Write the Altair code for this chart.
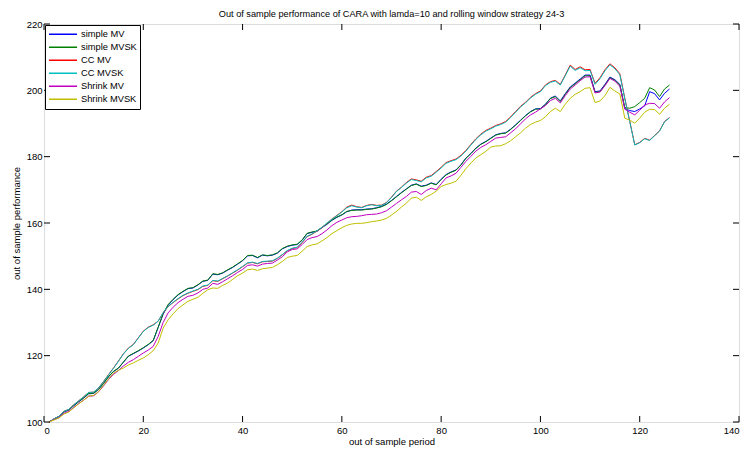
import altair as alt
import pandas as pd

periods = list(range(1, 127))

simple_mv = [100.0, 100.9, 101.6, 103.0, 103.6, 104.9, 106.1, 107.2, 108.5, 108.6,
 109.8, 111.6, 113.6, 115.2, 116.2, 118.0, 119.8, 120.6, 121.4, 122.3,
 123.3, 124.5, 128.5, 132.5, 135.2, 136.9, 138.3, 139.3, 140.2, 140.4,
 141.3, 142.4, 142.7, 144.6, 144.4, 144.9, 145.8, 146.6, 147.6, 148.6,
 150.1, 150.2, 149.5, 150.3, 150.1, 150.3, 150.9, 152.2, 152.9, 153.3,
 153.5, 154.8, 156.8, 157.2, 157.5, 158.6, 159.6, 160.8, 161.7, 162.4,
 163.4, 163.9, 164.0, 164.0, 164.2, 164.3, 164.6, 165.0, 165.7, 166.8,
 168.0, 169.2, 170.3, 171.4, 171.8, 171.1, 171.4, 172.1, 171.6, 173.2,
 174.6, 175.4, 176.0, 177.6, 179.6, 181.0, 182.6, 183.8, 184.6, 185.6,
 186.6, 187.0, 187.2, 188.3, 189.6, 191.0, 192.4, 193.6, 194.4, 194.5,
 195.8, 197.6, 198.3, 196.8, 199.0, 201.0, 202.2, 203.4, 204.6, 204.6,
 199.6, 199.8, 201.8, 204.0, 203.2, 201.8, 194.5, 193.9, 193.6, 194.4,
 195.3, 199.6, 199.0, 197.1, 199.1, 200.4]

simple_mvsk = [100.0, 100.9, 101.7, 103.1, 103.7, 105.0, 106.2, 107.3, 108.6, 108.7,
 109.9, 111.7, 113.7, 115.3, 116.3, 118.1, 119.9, 120.7, 121.5, 122.4,
 123.4, 124.6, 128.6, 132.7, 135.4, 137.0, 138.4, 139.4, 140.3, 140.5,
 141.4, 142.5, 142.8, 144.7, 144.5, 145.0, 145.9, 146.7, 147.7, 148.7,
 150.2, 150.3, 149.6, 150.4, 150.2, 150.4, 151.0, 152.3, 153.0, 153.4,
 153.6, 154.9, 156.9, 157.3, 157.6, 158.7, 159.7, 160.9, 161.8, 162.5,
 163.5, 163.8, 163.9, 163.9, 164.1, 164.2, 164.5, 164.9, 165.6, 166.7,
 167.9, 169.1, 170.2, 171.3, 171.7, 171.0, 171.3, 172.0, 171.5, 173.1,
 174.5, 175.3, 175.9, 177.5, 179.5, 180.9, 182.5, 183.7, 184.5, 185.5,
 186.5, 186.9, 187.1, 188.2, 189.5, 190.9, 192.3, 193.5, 194.3, 194.4,
 195.7, 197.5, 198.1, 196.6, 198.8, 200.8, 202.0, 203.2, 204.4, 204.4,
 199.4, 199.6, 201.6, 203.8, 203.0, 201.6, 194.8, 194.6, 195.1, 196.3,
 197.6, 200.8, 200.1, 198.1, 200.4, 201.6]

cc_mv = [100.0, 100.9, 101.7, 103.2, 103.8, 105.2, 106.4, 107.6, 108.9, 109.0,
 110.3, 112.2, 114.3, 116.3, 118.4, 120.6, 122.3, 123.4, 125.4, 127.4,
 128.6, 129.3, 130.4, 132.9, 134.8, 136.0, 137.1, 138.1, 138.8, 139.4,
 139.9, 140.9, 141.2, 142.6, 142.4, 143.2, 144.0, 144.9, 145.8, 146.8,
 147.9, 148.1, 147.7, 148.3, 148.4, 148.5, 149.3, 150.4, 151.6, 152.3,
 152.6, 154.1, 155.9, 156.6, 157.6, 158.6, 159.9, 161.2, 162.3, 163.4,
 164.8, 165.4, 164.9, 164.7, 165.3, 165.6, 165.3, 165.4, 166.2, 167.8,
 169.6, 170.8, 172.2, 173.3, 173.0, 172.6, 173.8, 174.3, 175.5, 176.8,
 178.2, 178.8, 179.3, 180.4, 181.9, 183.7, 185.4, 186.8, 187.9, 188.6,
 189.4, 189.9, 190.6, 192.0, 193.6, 195.2, 196.4, 197.9, 199.0, 199.8,
 201.6, 202.6, 203.0, 201.8, 204.6, 207.6, 206.3, 207.1, 206.2, 206.3,
 202.1, 203.8, 206.2, 208.0, 206.8, 205.0, 197.6, 190.6, 183.6, 184.3,
 185.5, 185.0, 186.4, 187.8, 190.6, 191.8]

cc_mvsk = [100.0, 100.9, 101.7, 103.2, 103.8, 105.2, 106.4, 107.6, 108.9, 109.0,
 110.3, 112.2, 114.2, 116.2, 118.3, 120.5, 122.2, 123.3, 125.3, 127.3,
 128.5, 129.2, 130.4, 133.0, 134.9, 136.1, 137.2, 138.2, 138.9, 139.5,
 140.0, 141.0, 141.3, 142.7, 142.5, 143.3, 144.1, 145.0, 145.9, 146.9,
 148.0, 148.2, 147.8, 148.4, 148.5, 148.6, 149.4, 150.5, 151.7, 152.4,
 152.7, 154.2, 156.0, 156.7, 157.7, 158.7, 160.0, 161.1, 162.2, 163.3,
 164.6, 165.2, 164.8, 164.6, 165.2, 165.5, 165.2, 165.3, 166.1, 167.7,
 169.5, 170.7, 172.0, 173.1, 172.8, 172.4, 173.6, 174.1, 175.3, 176.6,
 178.0, 178.6, 179.1, 180.2, 181.7, 183.5, 185.2, 186.6, 187.7, 188.4,
 189.2, 189.7, 190.4, 191.8, 193.4, 195.0, 196.2, 197.7, 198.8, 199.6,
 201.4, 202.4, 202.8, 201.6, 204.4, 207.3, 206.0, 206.8, 205.9, 206.0,
 201.8, 203.5, 205.9, 207.7, 206.5, 204.7, 197.4, 190.5, 183.5, 184.2,
 185.4, 184.9, 186.3, 187.7, 190.5, 191.7]

shrink_mv = [100.0, 100.7, 101.3, 102.6, 103.2, 104.4, 105.6, 106.6, 107.8, 107.9,
 109.1, 110.9, 112.8, 114.4, 115.5, 116.9, 118.0, 118.8, 119.8, 120.8,
 121.7, 122.8, 125.8, 130.0, 132.9, 134.6, 136.0, 137.0, 137.9, 138.2,
 138.9, 140.0, 140.4, 141.8, 141.5, 142.3, 143.2, 144.1, 145.1, 146.0,
 147.2, 147.4, 147.0, 147.6, 147.8, 147.9, 148.8, 149.8, 151.3, 152.0,
 152.2, 153.5, 155.0, 155.6, 155.9, 156.8, 157.9, 159.2, 160.2, 160.9,
 161.6, 161.9, 162.0, 162.2, 162.5, 162.6, 162.7, 163.1, 163.7, 164.8,
 165.9, 167.0, 168.0, 169.3, 169.5, 168.6, 169.8, 170.5, 170.0, 171.8,
 173.6, 174.2, 175.0, 176.8, 178.6, 180.1, 181.7, 182.8, 183.6, 184.6,
 185.6, 185.8, 186.0, 187.2, 188.4, 189.9, 191.4, 192.6, 193.4, 194.4,
 195.4, 196.9, 197.6, 196.2, 198.4, 200.4, 201.6, 202.9, 204.0, 204.1,
 199.2, 199.5, 201.4, 203.6, 202.8, 201.2, 194.3, 193.4, 192.6, 194.0,
 195.6, 196.1, 196.0, 194.6, 196.5, 197.8]

shrink_mvsk = [100.0, 100.6, 101.2, 102.4, 103.0, 104.3, 105.5, 106.6, 107.8, 108.0,
 109.2, 111.1, 113.0, 114.7, 115.6, 116.3, 117.2, 117.8, 118.6, 119.3,
 120.3, 121.5, 123.8, 128.3, 130.8, 132.6, 134.2, 135.3, 136.4, 137.0,
 137.6, 138.8, 139.9, 140.4, 140.3, 141.2, 141.9, 143.0, 144.1, 144.9,
 145.9, 146.1, 145.7, 146.2, 146.4, 146.6, 147.4, 148.4, 149.6, 150.0,
 150.2, 151.5, 152.9, 153.4, 153.7, 154.6, 155.6, 156.8, 157.7, 158.6,
 159.3, 159.7, 159.9, 159.9, 160.1, 160.4, 160.6, 160.9, 161.4, 162.4,
 163.5, 164.8, 166.0, 167.5, 167.8, 166.8, 167.9, 168.6, 169.6, 171.0,
 171.6, 172.0, 172.6, 174.4, 176.4, 178.1, 179.6, 180.6, 181.6, 182.9,
 183.2, 183.3, 183.9, 184.8, 186.0, 187.2, 188.6, 189.7, 190.4, 190.9,
 192.0, 193.6, 194.6, 193.6, 195.8, 197.6, 198.8, 199.6, 200.6, 200.8,
 196.3, 196.8, 198.4, 200.9, 199.8, 198.9, 191.6, 191.0, 190.1, 191.6,
 193.4, 194.3, 194.2, 192.8, 194.6, 195.8]

series_names = ["simple MV", "simple MVSK", "CC MV", "CC MVSK", "Shrink MV", "Shrink MVSK"]
series_colors = ["#0000FF", "#008000", "#FF0000", "#00BFBF", "#BF00BF", "#BFBF00"]
series_values = [simple_mv, simple_mvsk, cc_mv, cc_mvsk, shrink_mv, shrink_mvsk]

x_ticks = [0, 20, 40, 60, 80, 100, 120, 140]
y_ticks = [100, 120, 140, 160, 180, 200, 220]

title_text = "Out of sample performance of CARA with lamda=10 and rolling window strategy 24-3"
x_title = "out of sample period"
y_title = "out of sample performance"

rows = []
for name, vals in zip(series_names, series_values):
    for p, v in zip(periods, vals):
        rows.append({"period": p, "value": v, "series": name})
df = pd.DataFrame(rows)

FONT = "Liberation Sans"
W, H = 695, 398

x_scale = alt.Scale(domain=[0, 140], nice=False, zero=False)
y_scale = alt.Scale(domain=[100, 220], nice=False, zero=False)

x_axis = alt.Axis(values=x_ticks, title=x_title, grid=False, tickSize=0, domain=False,
                  labelPadding=3, titlePadding=2, labelFontSize=9.5, titleFontSize=9.5,
                  titleFontWeight="normal", labelFont=FONT, titleFont=FONT,
                  labelColor="black", titleColor="black")
y_axis = alt.Axis(values=y_ticks, title=y_title, grid=False, tickSize=0, domain=False,
                  labelPadding=2, titlePadding=5, labelFontSize=9.5, titleFontSize=9.5,
                  titleFontWeight="normal", labelFont=FONT, titleFont=FONT,
                  labelColor="black", titleColor="black")

legend = alt.Legend(title=None, orient="top-left", offset=1, symbolType="stroke",
                    symbolSize=784, symbolStrokeWidth=1.5, labelFontSize=9.3, labelFont=FONT,
                    labelColor="black", labelOffset=3, clipHeight=12.6, rowPadding=0,
                    padding=3, strokeColor="black", fillColor="white",
                    symbolOpacity=1)

color = alt.Color("series:N", scale=alt.Scale(domain=series_names, range=series_colors),
                  legend=legend)

line_layers = []
for name in series_names:
    line_layers.append(
        alt.Chart(df).transform_filter(alt.datum.series == name)
        .mark_line(strokeWidth=1)
        .encode(x=alt.X("period:Q", scale=x_scale, axis=x_axis),
                y=alt.Y("value:Q", scale=y_scale, axis=y_axis),
                color=color)
    )

xt = pd.DataFrame({"period": x_ticks})
yt = pd.DataFrame({"value": y_ticks})

bottom_ticks = alt.Chart(xt).mark_rule(color="black", strokeWidth=1).encode(
    x=alt.X("period:Q", scale=x_scale, axis=x_axis), y=alt.value(H), y2=alt.value(H - 6))
top_ticks = alt.Chart(xt).mark_rule(color="black", strokeWidth=1).encode(
    x=alt.X("period:Q", scale=x_scale, axis=x_axis), y=alt.value(0), y2=alt.value(6))
left_ticks = alt.Chart(yt).mark_rule(color="black", strokeWidth=1).encode(
    y=alt.Y("value:Q", scale=y_scale, axis=y_axis), x=alt.value(0), x2=alt.value(6))
right_ticks = alt.Chart(yt).mark_rule(color="black", strokeWidth=1).encode(
    y=alt.Y("value:Q", scale=y_scale, axis=y_axis), x=alt.value(W), x2=alt.value(W - 6))

chart = alt.layer(*line_layers, bottom_ticks, top_ticks, left_ticks, right_ticks).properties(
    width=W, height=H,
    title=alt.TitleParams(title_text, fontSize=9.2, font=FONT, fontWeight="normal",
                          color="black", anchor="middle", frame="group", offset=5, dy=5),
    padding={"left": 36, "top": 16, "right": 4, "bottom": 28},
    autosize=alt.AutoSizeParams(type="none"),
).configure_view(stroke="black", strokeWidth=1.5).configure_legend(
    strokeWidth=2
).configure(background="white")

chart.save("out.html", embed_options={"renderer": "svg", "actions": False})
